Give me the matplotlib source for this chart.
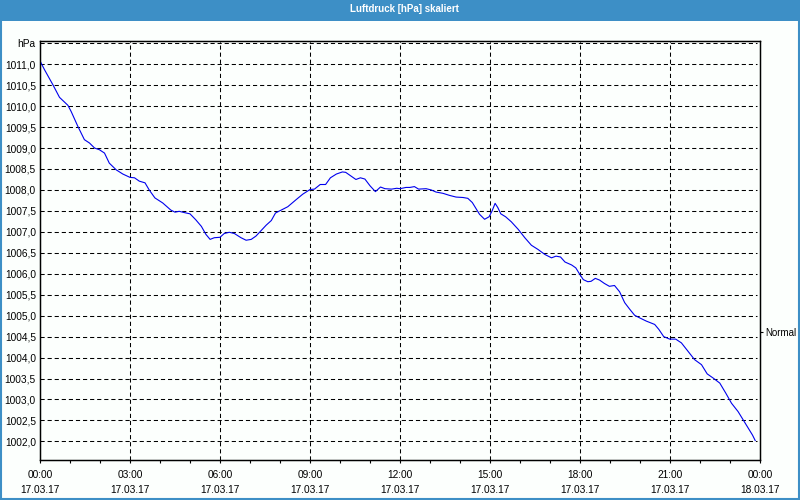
# Luftdruck chart (scaled air pressure over one day)
import numpy as np
import matplotlib.pyplot as plt
from matplotlib.patches import Rectangle
from matplotlib.ticker import MultipleLocator, FixedLocator

plt.rcParams['font.family'] = ['Liberation Sans', 'DejaVu Sans']

# data
hours = [0.0, 0.15, 0.43, 0.65, 0.93, 1.04, 1.26, 1.48, 1.65, 1.82, 1.98, 2.15, 2.31, 2.54,
         2.76, 3.0, 3.15, 3.31, 3.5, 3.64, 3.83, 4.09, 4.36, 4.5, 4.64, 4.81, 5.0, 5.19,
         5.38, 5.53, 5.67, 5.81, 6.0, 6.14, 6.31, 6.48, 6.70, 6.87, 7.04, 7.2, 7.37, 7.54,
         7.71, 7.85, 8.04, 8.26, 8.54, 8.76, 9.0, 9.15, 9.34, 9.52, 9.68, 9.88, 10.08,
         10.19, 10.35, 10.53, 10.68, 10.83, 11.0, 11.18, 11.35, 11.5, 11.72, 11.89, 12.0,
         12.2, 12.33, 12.48, 12.62, 12.87, 13.04, 13.2, 13.43, 13.65, 13.87, 14.1, 14.26,
         14.41, 14.54, 14.65, 14.82, 14.97, 15.07, 15.17, 15.26, 15.36, 15.52, 15.71,
         15.94, 16.16, 16.38, 16.6, 16.83, 17.05, 17.2, 17.35, 17.5, 17.72, 17.86, 17.98,
         18.11, 18.26, 18.37, 18.51, 18.65, 18.81, 18.98, 19.15, 19.32, 19.49, 19.65,
         19.82, 19.98, 20.21, 20.49, 20.63, 20.79, 20.99, 21.19, 21.38, 21.6, 21.82,
         22.05, 22.24, 22.44, 22.66, 22.86, 23.05, 23.27, 23.44, 23.61, 23.75, 23.84]
pressure = [1011.08, 1010.87, 1010.51, 1010.21, 1010.02, 1009.87, 1009.52, 1009.2, 1009.12,
            1009.0, 1008.96, 1008.88, 1008.64, 1008.48, 1008.38, 1008.30, 1008.29, 1008.21,
            1008.17, 1008.0, 1007.81, 1007.69, 1007.52, 1007.47, 1007.49, 1007.46, 1007.43,
            1007.29, 1007.13, 1006.94, 1006.82, 1006.86, 1006.87, 1006.96, 1006.99, 1006.96,
            1006.86, 1006.80, 1006.82, 1006.9, 1007.03, 1007.16, 1007.27, 1007.45, 1007.52,
            1007.60, 1007.77, 1007.90, 1008.01, 1008.02, 1008.13, 1008.13, 1008.29, 1008.38,
            1008.43, 1008.42, 1008.34, 1008.25, 1008.29, 1008.26, 1008.10, 1007.96, 1008.07,
            1008.03, 1008.02, 1008.04, 1008.03, 1008.06, 1008.06, 1008.08, 1008.02, 1008.03,
            1008.0, 1007.95, 1007.92, 1007.87, 1007.83, 1007.82, 1007.80, 1007.70, 1007.55,
            1007.42, 1007.30, 1007.36, 1007.50, 1007.68, 1007.58, 1007.43, 1007.36, 1007.24,
            1007.06, 1006.86, 1006.68, 1006.58, 1006.46, 1006.38, 1006.42, 1006.40, 1006.28,
            1006.21, 1006.14, 1006.0, 1005.86, 1005.81, 1005.82, 1005.89, 1005.85, 1005.77,
            1005.70, 1005.72, 1005.57, 1005.31, 1005.16, 1005.01, 1004.95, 1004.87, 1004.79,
            1004.67, 1004.50, 1004.44, 1004.44, 1004.35, 1004.15, 1003.95, 1003.83, 1003.61,
            1003.51, 1003.39, 1003.15, 1002.91, 1002.71, 1002.51, 1002.31, 1002.15, 1002.02]

x_ticks = [0, 3, 6, 9, 12, 15, 18, 21, 24]
x_labels = ['00:00\n17.03.17', '03:00\n17.03.17', '06:00\n17.03.17', '09:00\n17.03.17',
            '12:00\n17.03.17', '15:00\n17.03.17', '18:00\n17.03.17', '21:00\n17.03.17',
            '00:00\n18.03.17']
y_ticks = list(np.arange(1002.0, 1011.51, 0.5))
y_labels = [('%.1f' % v).replace('.', ',') for v in y_ticks[:-1]] + ['hPa']
normal_level = 1004.6

blue = '#3d8fc6'

fig = plt.figure(figsize=(8, 5), dpi=100, facecolor='#fcfffd')

# title bar and frame around the picture
fig.patches.append(Rectangle((0, 0.959), 1, 0.041, transform=fig.transFigure,
                             facecolor=blue, edgecolor='none', zorder=0))
fig.patches.append(Rectangle((0.001, 0.002), 0.998, 0.996, transform=fig.transFigure,
                             fill=False, edgecolor=blue, linewidth=1.5, zorder=5))
fig.text(0.505, 0.981, 'Luftdruck [hPa] skaliert', color='white', fontsize=7,
         fontweight='bold', ha='center', va='center')

ax = fig.add_axes([0.05, 0.08, 0.90, 0.8386])
ax.set_facecolor('#fcfffd')
ax.plot(hours, pressure, color='#0000ee', linewidth=0.8, zorder=3)

ax.set_xlim(0, 24)
ax.set_ylim(1001.555, 1011.562)

ax.xaxis.set_major_locator(FixedLocator(x_ticks))
ax.set_xticklabels(x_labels, fontsize=7.3, linespacing=1.6)
ax.xaxis.set_minor_locator(MultipleLocator(1))
ax.tick_params(axis='x', which='major', direction='out', length=2.2, width=0.8, pad=5)
ax.tick_params(axis='x', which='minor', direction='out', length=2.0, width=0.8)

ax.set_yticks(y_ticks)
ax.set_yticklabels(y_labels, fontsize=7.3)
ax.tick_params(axis='y', length=0, pad=3)

for v in y_ticks:
    ax.axhline(v, xmax=0.996, color='black', linewidth=0.75, dashes=(4, 2.8), zorder=1)
for h in x_ticks[1:-1]:
    ax.axvline(h, color='black', linewidth=0.75, dashes=(4, 2.8), zorder=1)

for s in ax.spines.values():
    s.set_linewidth(1.0)
    s.set_color('black')

# "Normal" marker on the right axis
ax2 = ax.twinx()
ax2.set_ylim(ax.get_ylim())
ax2.set_yticks([normal_level])
ax2.set_yticklabels(['Normal'], fontsize=7)
ax2.tick_params(axis='y', direction='out', length=2.5, width=0.8, pad=1.5)

fig.savefig('out.png', dpi=100, facecolor=fig.get_facecolor())
